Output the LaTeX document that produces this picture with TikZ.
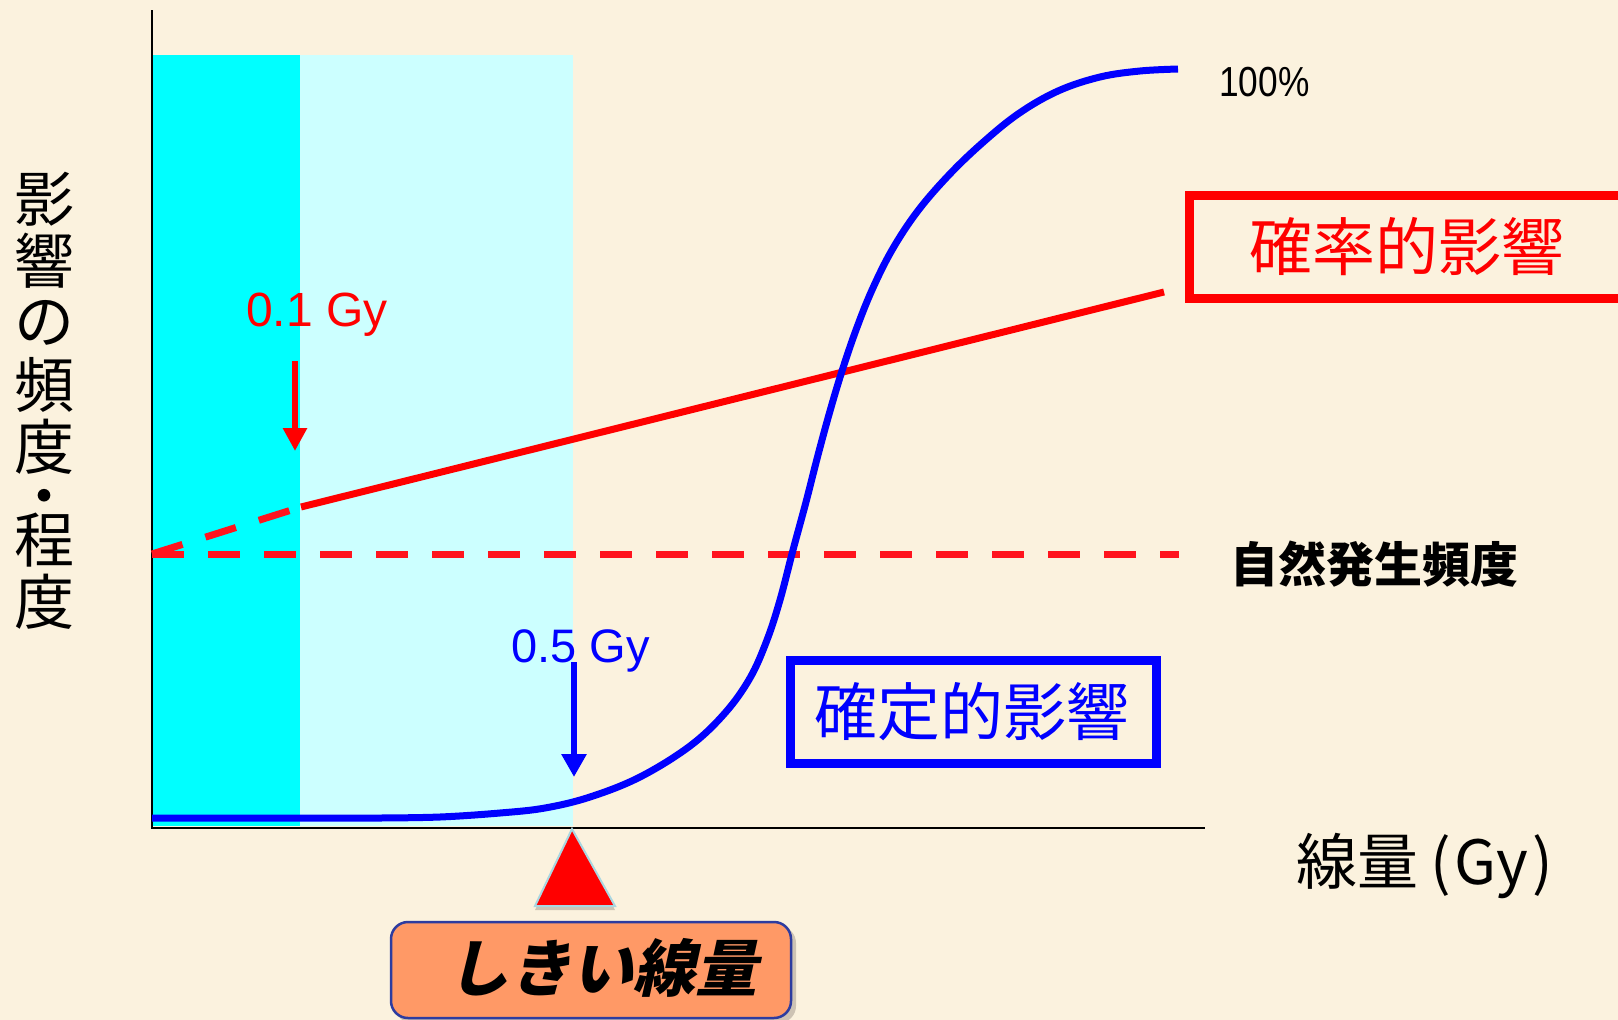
\documentclass[tikz,border=0pt]{standalone}
\usepackage{fontspec}
\setmainfont{Liberation Sans}
\newfontfamily\jp{Noto Sans CJK JP}
\newfontfamily\jpsl{Noto Sans CJK JP}[FakeSlant=0.22]
\usetikzlibrary{arrows.meta}
\definecolor{bg}{RGB}{251,242,222}
\definecolor{cyandark}{RGB}{0,255,255}
\definecolor{cyanlight}{RGB}{204,255,255}
\definecolor{pred}{RGB}{255,0,0}
\definecolor{dred}{RGB}{255,20,30}
\definecolor{pblue}{RGB}{0,0,255}
\definecolor{orangebox}{RGB}{255,153,102}
\definecolor{boxedge}{RGB}{45,60,160}
\definecolor{tribord}{RGB}{170,215,225}
\definecolor{shadowc}{RGB}{205,195,180}
\tikzset{
  ylab/.style={inner sep=0pt, font=\jp\fontsize{60}{60}\selectfont},
  axisline/.style={line width=2pt, black},
  redline/.style={line width=7pt, pred},
  reddash/.style={line width=7pt, dred, dash pattern=on 32pt off 24pt},
  bluecurve/.style={line width=7pt, pblue, line join=round},
  redarrow/.style={line width=6pt, pred, -{Triangle[width=23pt,length=23pt]}},
  bluearrow/.style={line width=6pt, pblue, -{Triangle[width=24pt,length=23pt]}},
  gylabel/.style={inner sep=0pt, anchor=base west, font=\fontsize{48}{48}\selectfont},
  effbox/.style={line width=9pt, inner sep=0pt},
  efftext/.style={inner sep=0pt, font=\jp\fontsize{63}{63}\selectfont},
}
\begin{document}
\begin{tikzpicture}[x=1pt,y=-1pt]
\useasboundingbox (0,0) rectangle (1618,1020);
\fill[bg] (0,0) rectangle (1618,1020);
% shaded dose regions
\fill[cyanlight] (152,55) rectangle (573,826);
\fill[cyandark] (152,55) rectangle (300,826);
% axes
\coordinate (o) at (152,828);
\coordinate (ytop) at (152,10);
\coordinate (xend) at (1205,828);
\draw[axisline] (ytop) -- (o) -- (xend);
% y label
\foreach \c/\y [count=\i] in {影/199,響/261,の/323,頻/385,度/447,程/540,度/602}
  \node[ylab] (yl\i) at (44,\y) {\c};
\node[ylab] (ydot) at (44,518) {\smash{・}};
% natural incidence line
\coordinate (n0) at (152,554);
\coordinate (n1) at (1179,554);
\draw[reddash] (n0) -- (n1);
% stochastic line
\coordinate (s0) at (152,554);
\coordinate (s1) at (301,507);
\coordinate (s2) at (1164,292);
\draw[reddash] (s0) -- (s1);
\draw[redline] (s1) -- (s2);
% deterministic curve
\draw[bluecurve] (152,818) -- (380,818)
  plot[smooth, tension=0.6] coordinates {(380,818) (440,817) (500,813) (545,808) (590,797) (640,777) (690,746) (725,713) (750,678) (767,640) (780,600) (793,550) (806,502) (818,455) (830,411) (842,371) (856,330) (872,290) (892,250) (917,212) (947,177) (980,145) (1018,114) (1058,91) (1100,77) (1140,71) (1178,69)};
% labels
\node[inner sep=0pt, anchor=base west, font=\fontsize{42}{42}\selectfont] (pct) at (1219,96) {\scalebox{0.84}[1]{100\%}};
\node[inner sep=0pt, anchor=base west, font=\jp\bfseries\fontsize{48}{48}\selectfont] (nat) at (1230,582) {自然発生頻度};
% effect boxes
\draw[effbox, pred] (1189,195) rectangle (1640,298);
\node[efftext, text=pred] (stoch) at (1407,247) {確率的影響};
\draw[effbox, pblue] (790,660) rectangle (1156,763);
\node[efftext, text=pblue] (det) at (972,712) {確定的影響};
% dose arrows
\node[gylabel, text=pred] (g01) at (246,326) {0.1 Gy};
\coordinate (ra0) at (295,361);
\coordinate (ra1) at (295,451);
\draw[redarrow] (ra0) -- (ra1);
\node[gylabel, text=pblue, font=\fontsize{47}{47}\selectfont] (g05) at (511,662) {0.5 Gy};
\coordinate (ba0) at (574,662);
\coordinate (ba1) at (574,777);
\draw[bluearrow] (ba0) -- (ba1);
% x label
\node[inner sep=0pt, anchor=base west, font=\jp\fontsize{61}{61}\selectfont] (xl) at (1296,884) {線量\kern12pt(\kern4pt Gy\kern4pt)};
% threshold marker
\fill[shadowc] (535,910) -- (615,910) -- (575,836) -- cycle;
\filldraw[fill=pred, draw=tribord, line width=2pt] (572,829) -- (615,906) -- (535,906) -- cycle;
\fill[shadowc, rounded corners=17pt] (395,926) rectangle (796,1023);
\node[draw=boxedge, fill=orangebox, line width=2.5pt, rounded corners=17pt, minimum width=400pt, minimum height=96pt, inner sep=0pt] (th) at (591,970) {};
\node[inner sep=0pt, font=\jpsl\bfseries\fontsize{62}{62}\selectfont] (tht) at (602,968) {しきい線量};
\end{tikzpicture}
\end{document}
